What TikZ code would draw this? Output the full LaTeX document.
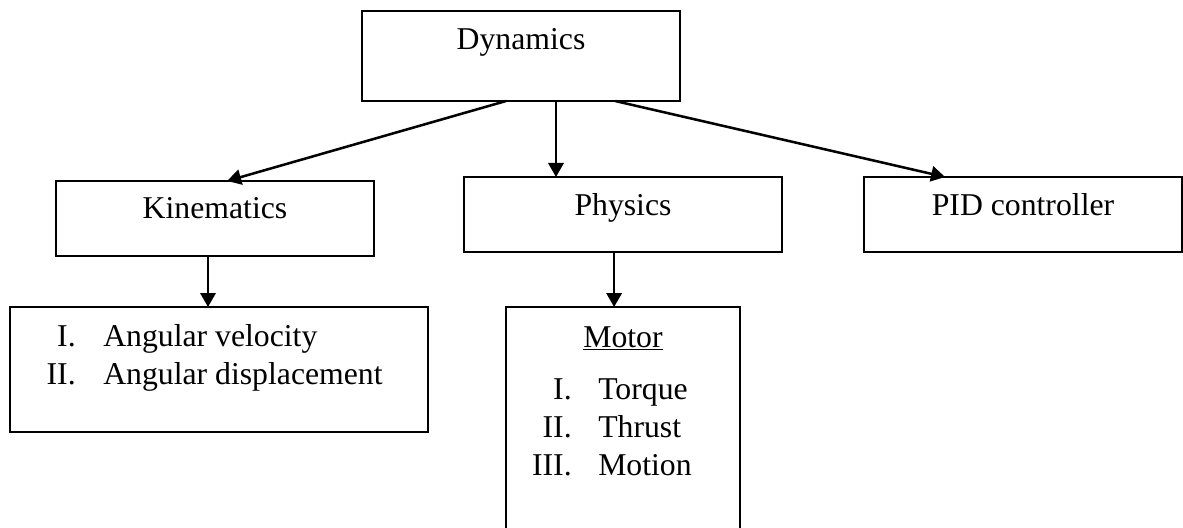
\documentclass[tikz,border=0pt]{standalone}
\usepackage{fontspec}
\setmainfont{Liberation Serif}
\usetikzlibrary{arrows.meta,calc}
\begin{document}
\begin{tikzpicture}[x=0.75pt,y=-0.75pt,
  box/.style n args={2}{draw, line width=1pt, rectangle, inner sep=0pt, outer sep=0pt,
    minimum width=#1*0.75pt, minimum height=#2*0.75pt},
  txt/.style={inner sep=0pt, font=\fontsize{23.8}{28.5}\selectfont},
  link/.style={line width=1.9pt, -{Triangle[length=10.5pt,width=11.5pt]}}]
\useasboundingbox (0,0) rectangle (1183,528);
\clip (0,0) rectangle (1183,528);

% boxes
\node[box={318}{90}]  (dyn) at (521,56) {};
\node[box={318}{75}]  (kin) at (215,218.5) {};
\node[box={318}{75}]  (phy) at (623,214.5) {};
\node[box={318}{75}]  (pid) at (1023,214.5) {};
\node[box={418}{125}] (ang) at (219,369.5) {};
\node[box={234}{240}] (mot) at (623,427) {};

% titles
\node[txt, anchor=base] (tdyn) at (521,50) {Dynamics};
\node[txt, anchor=base] (tkin) at (215,219) {Kinematics};
\node[txt, anchor=base] (tphy) at (623,215) {Physics};
\node[txt, anchor=base] (tpid) at (1023,215) {PID controller};

% kinematics list
\node[txt, anchor=base east] (ka) at (76,346) {I.};
\node[txt, anchor=base west] (kb) at (103,346) {Angular velocity};
\node[txt, anchor=base east] (kc) at (76,384) {II.};
\node[txt, anchor=base west] (kd) at (103,384) {Angular displacement};

% motor list
\node[txt, anchor=base] (tmot) at (623,347) {\underline{Motor}};
\node[txt, anchor=base east] (ma) at (572,399) {I.};
\node[txt, anchor=base west] (mb) at (598,399) {Torque};
\node[txt, anchor=base east] (mc) at (572,437) {II.};
\node[txt, anchor=base west] (md) at (598,437) {Thrust};
\node[txt, anchor=base east] (me) at (572,475) {III.};
\node[txt, anchor=base west] (mf) at (598,475) {Motion};

% connectors
\coordinate (d1) at ($(dyn.south west)!0.453!(dyn.south east)$);
\coordinate (d2) at ($(dyn.south west)!0.610!(dyn.south east)$);
\coordinate (d3) at ($(dyn.south west)!0.796!(dyn.south east)$);
\coordinate (k1) at ($(kin.north west)!0.538!(kin.north east)$);
\coordinate (p1) at ($(pid.north west)!0.255!(pid.north east)$);
\coordinate (k2) at ($(kin.south west)!0.478!(kin.south east)$);
\coordinate (p2) at ($(phy.south west)!0.472!(phy.south east)$);

\draw[link] (d1) -- (k1);
\draw[link] (d2) -- (d2 |- phy.north);
\draw[link] (d3) -- (p1);
\draw[link] (k2) -- (k2 |- ang.north);
\draw[link] (p2) -- (p2 |- mot.north);
\end{tikzpicture}
\end{document}
